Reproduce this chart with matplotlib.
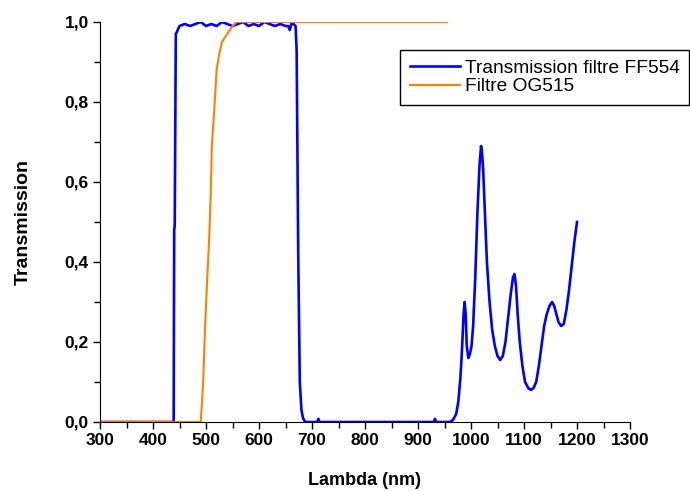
import matplotlib.pyplot as plt
from matplotlib.ticker import MultipleLocator, FuncFormatter

plt.rcParams['font.family'] = ['Liberation Sans', 'DejaVu Sans']

# transmission of the FF554 filter
ff554_nm = [300, 439, 440, 441, 443, 445, 450, 460, 470, 480, 490, 500, 510, 520,
            530, 540, 550, 560, 570, 580, 590, 600, 610, 620, 630, 640, 650, 655,
            658, 661, 665, 669, 671, 674, 677, 680, 683, 687, 700, 710, 712, 714,
            730, 900, 930, 932, 934, 960, 966, 972, 976, 980, 983, 986, 988, 990,
            992, 995, 998, 1001, 1004, 1008, 1012, 1016, 1019, 1021, 1023, 1026,
            1030, 1035, 1040, 1045, 1050, 1055, 1060, 1065, 1070, 1075, 1079, 1082,
            1085, 1088, 1092, 1097, 1102, 1108, 1113, 1118, 1123, 1128, 1133, 1138,
            1143, 1148, 1153, 1157, 1161, 1165, 1170, 1175, 1180, 1185, 1190, 1195,
            1198, 1200]
ff554_t = [0, 0, 0.48, 0.49, 0.97, 0.975, 0.99, 0.995, 0.99, 0.995, 1.0, 0.99, 0.995,
           0.99, 1.0, 0.995, 0.99, 0.995, 1.0, 0.99, 0.995, 0.99, 1.0, 0.995, 0.99,
           0.995, 0.99, 0.99, 0.98, 0.995, 0.995, 0.99, 0.93, 0.42, 0.10, 0.03, 0.01,
           0.0, 0.0, 0.0, 0.008, 0.0, 0.0, 0.0, 0.0, 0.008, 0.0, 0.0, 0.005, 0.02,
           0.05, 0.11, 0.18, 0.27, 0.30, 0.27, 0.19, 0.16, 0.17, 0.19, 0.24, 0.36,
           0.52, 0.64, 0.69, 0.67, 0.63, 0.53, 0.40, 0.30, 0.23, 0.19, 0.165, 0.155,
           0.165, 0.20, 0.26, 0.32, 0.36, 0.37, 0.34, 0.27, 0.20, 0.14, 0.10, 0.085,
           0.08, 0.085, 0.10, 0.14, 0.19, 0.24, 0.27, 0.29, 0.30, 0.29, 0.27, 0.25,
           0.24, 0.245, 0.28, 0.33, 0.39, 0.45, 0.48, 0.50]

# transmission of the OG515 filter
og515_nm = [300, 490, 491, 493, 495, 498, 502, 506, 509, 511, 514, 517, 520, 525,
            530, 540, 550, 558, 955]
og515_t = [0, 0, 0.02, 0.06, 0.11, 0.23, 0.35, 0.46, 0.57, 0.69, 0.75, 0.81, 0.88,
           0.92, 0.95, 0.97, 0.99, 1.0, 1.0]

fig = plt.figure(figsize=(6.9, 4.91), dpi=100)
ax = fig.add_axes([100 / 690, 69 / 491, 530 / 690, 400 / 491])

ax.plot(ff554_nm, ff554_t, color='#0000ff', lw=1.9, label='Transmission filtre FF554')
ax.plot(og515_nm, og515_t, color='#ff8000', lw=1.5, label='Filtre OG515')

ax.set_xlim(300, 1300)
ax.set_ylim(0, 1.0)
ax.xaxis.set_major_locator(MultipleLocator(100))
ax.xaxis.set_minor_locator(MultipleLocator(50))
ax.yaxis.set_major_locator(MultipleLocator(0.2))
ax.yaxis.set_minor_locator(MultipleLocator(0.1))
ax.yaxis.set_major_formatter(FuncFormatter(lambda v, p: f'{v:.1f}'.replace('.', ',')))

# only left and bottom axes, ticks pointing out
for side in ['top', 'right']:
    ax.spines[side].set_visible(False)
ax.tick_params(which='major', direction='out', length=5, width=1,
               labelsize=12.5, pad=3)
ax.tick_params(which='minor', direction='out', length=4, width=1)
for lbl in ax.get_xticklabels() + ax.get_yticklabels():
    lbl.set_fontweight('bold')

ax.set_xlabel('Lambda (nm)', fontsize=13, fontweight='bold')
ax.set_ylabel('Transmission', fontsize=14, fontweight='bold')
ax.xaxis.set_label_coords(0.5, -0.125)
ax.yaxis.set_label_coords(-0.128, 0.5)

# legend box sticks out past the right end of the axis
leg = ax.legend(loc='upper right', bbox_to_anchor=(689 / 690, 1 - 50 / 491),
                bbox_transform=fig.transFigure, borderaxespad=0, fontsize=13.8,
                fancybox=False, framealpha=1, edgecolor='black',
                handlelength=2.6, handletextpad=0.25, labelspacing=0.05,
                borderpad=0.5)
leg.get_frame().set_linewidth(1)

fig.savefig('out.png', dpi=100)
